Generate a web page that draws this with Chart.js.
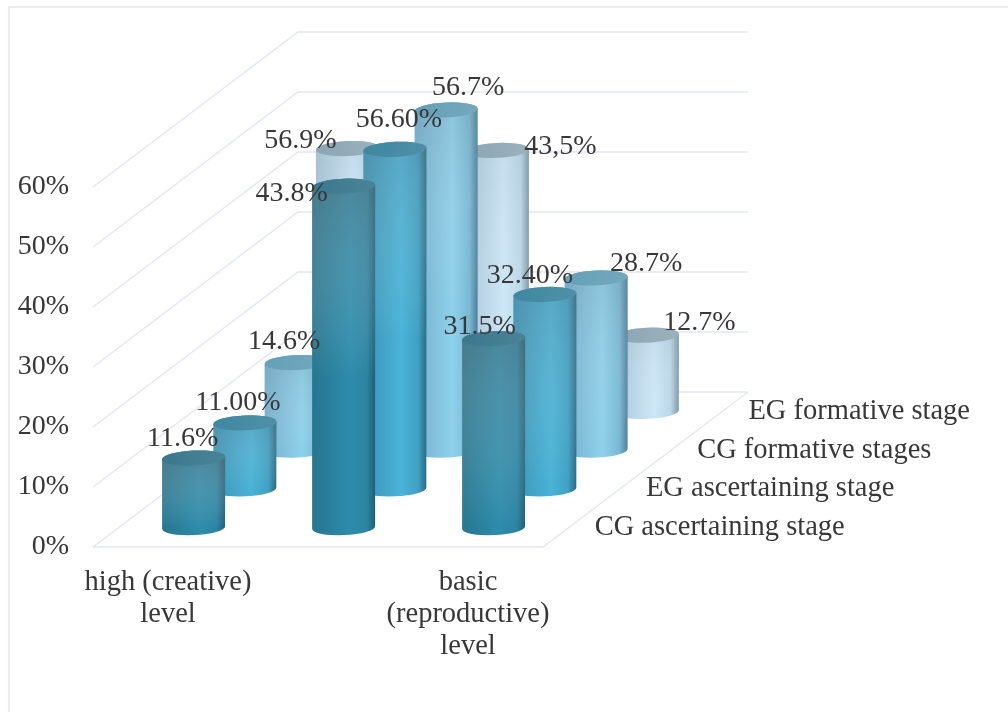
<!DOCTYPE html>
<html>
<head>
<meta charset="utf-8">
<script src="https://cdn.jsdelivr.net/npm/chart.js@4"></script>
<style>html,body{margin:0;padding:0;background:#fff}canvas{display:block}</style>
</head>
<body>
<canvas id="c" width="1008" height="719"></canvas>
<script>
const categories = [["high (creative)","level"], "", ["basic","(reproductive)","level"]];
const seriesNames = ["CG ascertaining stage","EG ascertaining stage","CG formative stages","EG formative stage"];
const cgAscertaining = [11.6, 56.9, 31.5];
const egAscertaining = [11.0, 56.6, 32.4];
const cgFormative = [14.6, 56.7, 28.7];
const egFormative = [43.8, 43.5, 12.7];
const cgAscertainingLabels = ["11.6%","43.8%","31.5%"];
const egAscertainingLabels = ["11.00%","56.60%","32.40%"];
const cgFormativeLabels = ["14.6%","56.7%","28.7%"];
const egFormativeLabels = ["56.9%","43,5%","12.7%"];

// layout of the oblique projection (not data)
const FONT = '28px "Liberation Serif"';
const LEGEND_FONT = '28.5px "Liberation Serif"';
const TEXT = '#383838';
const GRID = '#e4e7f3';
const DEPTH = {x:205, y:-155};
const CAP_RY = 7.5, TILT = -0.045;
const SLOT = {x:DEPTH.x/4, y:DEPTH.y/4};
const LABEL_SHIFT = [
  [[-11,-19],[-52,7],[-14,-12]],
  [[-7,-20],[4,-30],[-15,-19]],
  [[-12,-21],[22,-22],[50,-14]],
  [[-47,-8],[63,-4],[52,-13]]
];
const SKIN = [
  {stops:['#27768f','#2d8cab','#2c84a2','#1f5f78'], cap:['#3a788e','#4b8396'], shade:'rgba(125,128,132,0.36)'},
  {stops:['#3c93b5','#4ab3d6','#3fa0c2','#2a6b84'], cap:['#3f87a0','#4f90a8'], shade:'rgba(125,140,150,0.26)'},
  {stops:['#74aecb','#8fd1ea','#78b8d3','#4e7f99'], cap:['#64a0b8','#74a8bd'], shade:'rgba(130,150,165,0.22)'},
  {stops:['#a8c5d6','#cde7f7','#bbd7e7','#7e98a8'], cap:['#8ba5b4','#9cb1bd'], shade:'rgba(150,165,175,0.15)'}
];

const cylinderPlugin = {
  id:'cylinder',
  beforeDraw(chart){
    const {ctx} = chart;
    ctx.save();
    ctx.strokeStyle = '#e6e8f1';
    ctx.lineWidth = 1.5;
    ctx.beginPath();
    ctx.moveTo(9,712);
    ctx.lineTo(9,7);
    ctx.lineTo(1008,7);
    ctx.stroke();
    ctx.restore();
  },
  beforeDatasetsDraw(chart){
    const {ctx, chartArea:a, scales:{y}} = chart;
    ctx.save();
    ctx.strokeStyle = GRID;
    ctx.lineWidth = 1.5;
    y.ticks.forEach(t=>{
      const py = y.getPixelForValue(t.value);
      ctx.beginPath();
      ctx.moveTo(a.left,py);
      ctx.lineTo(a.left+DEPTH.x,py+DEPTH.y);
      ctx.lineTo(a.right+DEPTH.x,py+DEPTH.y);
      ctx.stroke();
    });
    ctx.beginPath();
    ctx.moveTo(a.left,a.bottom);
    ctx.lineTo(a.right,a.bottom);
    ctx.lineTo(a.right+DEPTH.x,a.bottom+DEPTH.y);
    ctx.stroke();
    ctx.restore();
  },
  beforeDatasetDraw(chart,args){
    const {ctx} = chart, i = args.index, skin = SKIN[i];
    const dx = (i+.5)*SLOT.x, dy = (i+.5)*SLOT.y;
    args.meta.data.forEach(el=>{
      const cx = el.x+dx, top = el.y+dy, bot = el.base+dy, rx = el.width/2;
      const l = cx-rx, r = cx+rx;
      const edgeL = Math.sin(TILT)*rx;
      ctx.save();
      const g = ctx.createLinearGradient(l,0,r,0);
      [0,.6,.87,1].forEach((p,k)=>g.addColorStop(p,skin.stops[k]));
      ctx.beginPath();
      ctx.moveTo(l,top-edgeL);
      ctx.lineTo(l,bot-edgeL);
      ctx.ellipse(cx,bot,rx,CAP_RY,TILT,Math.PI,0,true);
      ctx.lineTo(r,top+edgeL);
      ctx.ellipse(cx,top,rx,CAP_RY,TILT,0,Math.PI,true);
      ctx.closePath();
      ctx.fillStyle = g;
      ctx.fill();
      ctx.clip();
      const v = ctx.createLinearGradient(0,top,0,Math.min(bot,top+190));
      v.addColorStop(0,skin.shade);
      v.addColorStop(1,'rgba(255,255,255,0)');
      ctx.fillStyle = v;
      ctx.fillRect(l,top-CAP_RY*2,r-l,bot-top+CAP_RY*4);
      ctx.restore();
      const c = ctx.createLinearGradient(l,0,r,0);
      c.addColorStop(0,skin.cap[0]);
      c.addColorStop(1,skin.cap[1]);
      ctx.beginPath();
      ctx.ellipse(cx,top,rx,CAP_RY,TILT,0,Math.PI*2);
      ctx.fillStyle = c;
      ctx.fill();
    });
    return false;
  },
  afterDatasetsDraw(chart){
    const {ctx, chartArea:a} = chart;
    ctx.save();
    ctx.font = FONT;
    ctx.fillStyle = TEXT;
    ctx.textBaseline = 'middle';
    ctx.textAlign = 'center';
    chart.data.datasets.forEach((ds,i)=>{
      const dx = (i+.5)*SLOT.x, dy = (i+.5)*SLOT.y;
      chart.getDatasetMeta(i).data.forEach((el,k)=>{
        const s = LABEL_SHIFT[i][k];
        ctx.fillText(ds.valueLabels[k], el.x+dx+s[0], el.y+dy+s[1]);
      });
    });
    ctx.font = LEGEND_FONT;
    ctx.textAlign = 'left';
    seriesNames.forEach((n,i)=>{
      ctx.fillText(n, a.right+(i+.5)*SLOT.x+26, a.bottom+(i+.5)*SLOT.y);
    });
    ctx.restore();
  }
};

new Chart(document.getElementById('c'),{
  type:'bar',
  data:{
    labels:categories,
    datasets:[
      {label:seriesNames[0],data:cgAscertaining,valueLabels:cgAscertainingLabels,backgroundColor:'#2f89a8'},
      {label:seriesNames[1],data:egAscertaining,valueLabels:egAscertainingLabels,backgroundColor:'#45afd2'},
      {label:seriesNames[2],data:cgFormative,valueLabels:cgFormativeLabels,backgroundColor:'#8fd1ea'},
      {label:seriesNames[3],data:egFormative,valueLabels:egFormativeLabels,backgroundColor:'#cde7f7'}
    ]
  },
  options:{
    responsive:false,
    animation:false,
    devicePixelRatio:1,
    grouped:false,
    barPercentage:0.42,
    categoryPercentage:1,
    layout:{padding:{top:187,right:465,left:0,bottom:0}},
    plugins:{legend:{display:false},tooltip:{enabled:false},title:{display:false}},
    scales:{
      x:{
        grid:{display:false},
        border:{display:false},
        afterFit(s){s.height=172;},
        ticks:{autoSkip:false,maxRotation:0,minRotation:0,padding:11,color:TEXT,
          font:{family:'Liberation Serif',size:28.5,lineHeight:1.13}}
      },
      y:{
        min:0,max:60,
        grid:{display:false},
        border:{display:false},
        afterFit(s){s.width=93;},
        ticks:{stepSize:10,padding:16,color:TEXT,callback:v=>v+'%',
          font:{family:'Liberation Serif',size:28}}
      }
    }
  },
  plugins:[cylinderPlugin]
});
</script>
</body>
</html>
